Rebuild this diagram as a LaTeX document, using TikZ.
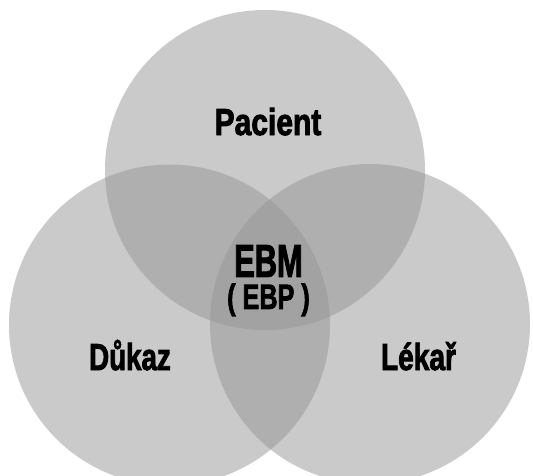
\documentclass[tikz,border=0pt]{standalone}
\usepackage{fontspec}
\newfontfamily\impfont[FakeBold=2.5]{Liberation Sans}
\definecolor{venngray}{RGB}{150,150,150}
\tikzset{
  venn/.style={fill=venngray, fill opacity=0.5, draw=none},
  lbl/.style={anchor=base, inner sep=0pt, text=black, font=\impfont\bfseries}
}
\begin{document}
\begin{tikzpicture}[x=1pt,y=-1pt]
\useasboundingbox (0,0) rectangle (533,475);
\fill[white] (0,0) rectangle (533,475);
\path[venn] (265,170) circle[radius=160];
\path[venn] (169.5,325) circle[radius=160.5];
\path[venn] (370,324) circle[radius=160];
\node[lbl] (pacient) at (268,135) {\fontsize{37.5}{40}\selectfont\scalebox{0.8}[1]{Pacient}};
\node[lbl, anchor=north, align=center, font=\impfont\bfseries\fontsize{35}{32}\selectfont] (ebm) at (268.5,245)
  {{\fontsize{46}{32}\selectfont\scalebox{0.67}[1]{EBM}}\\{\scalebox{0.72}[1]{( EBP )}}};
\node[lbl] (dukaz) at (130,370) {\fontsize{37.5}{40}\selectfont\scalebox{0.74}[1]{Důkaz}};
\node[lbl] (lekar) at (418.5,370) {\fontsize{37.5}{40}\selectfont\scalebox{0.75}[1]{Lékař}};
\end{tikzpicture}
\end{document}
